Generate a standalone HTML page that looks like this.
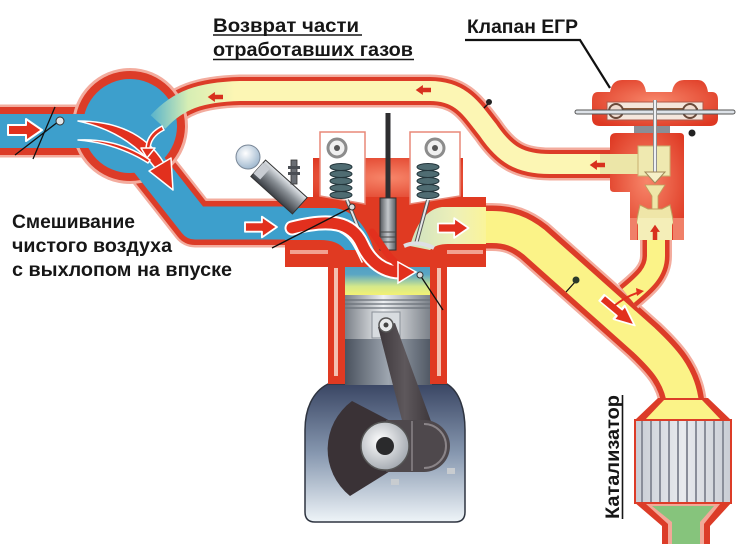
<!DOCTYPE html>
<html><head><meta charset="utf-8">
<style>
html,body{margin:0;padding:0;background:#fff;}
svg{display:block;}
text{font-family:"Liberation Sans","DejaVu Sans",sans-serif;font-weight:bold;fill:#161616;}
</style></head><body>
<svg width="750" height="544" viewBox="0 0 750 544" xmlns="http://www.w3.org/2000/svg">
<defs>
 <linearGradient id="retY" gradientUnits="userSpaceOnUse" x1="150" y1="0" x2="235" y2="0">
  <stop offset="0" stop-color="#56b2cc"/>
  <stop offset="0.45" stop-color="#d6eeb4"/>
  <stop offset="1" stop-color="#fcf6b4"/>
 </linearGradient>
 <linearGradient id="crankG" x1="0" y1="0" x2="0" y2="1">
  <stop offset="0" stop-color="#3a4664"/>
  <stop offset="0.5" stop-color="#8697af"/>
  <stop offset="1" stop-color="#eef4f8"/>
 </linearGradient>
 <linearGradient id="pistonG" x1="0" y1="0" x2="1" y2="0">
  <stop offset="0" stop-color="#7a8088"/>
  <stop offset="0.45" stop-color="#eef0f2"/>
  <stop offset="1" stop-color="#7c828a"/>
 </linearGradient>
 <linearGradient id="skirtG" x1="0" y1="0" x2="1" y2="0">
  <stop offset="0" stop-color="#4a525e"/>
  <stop offset="0.5" stop-color="#9ea6b0"/>
  <stop offset="1" stop-color="#4e5662"/>
 </linearGradient>
 <linearGradient id="chamberG" x1="0" y1="0" x2="0" y2="1">
  <stop offset="0" stop-color="#3c90c0"/>
  <stop offset="0.55" stop-color="#5aa6c4"/>
  <stop offset="0.8" stop-color="#d4e88a"/>
  <stop offset="1" stop-color="#f6f272"/>
 </linearGradient>
 <linearGradient id="exPortG" x1="0" y1="0" x2="1" y2="0">
  <stop offset="0" stop-color="#cfe2c0"/>
  <stop offset="0.6" stop-color="#eef0b8"/>
  <stop offset="1" stop-color="#faf49a"/>
 </linearGradient>
 <radialGradient id="redG" cx="0.5" cy="0.45" r="0.65">
  <stop offset="0" stop-color="#f7866a"/>
  <stop offset="1" stop-color="#de3822"/>
 </radialGradient>
 <radialGradient id="bulbG" cx="0.4" cy="0.35" r="0.7">
  <stop offset="0" stop-color="#ffffff"/>
  <stop offset="1" stop-color="#9ab4cc"/>
 </radialGradient>
 <linearGradient id="injG" x1="0" y1="0" x2="0" y2="1">
  <stop offset="0" stop-color="#e4e8ec"/>
  <stop offset="0.45" stop-color="#8a9096"/>
  <stop offset="1" stop-color="#3a3e44"/>
 </linearGradient>
 <linearGradient id="plugG" x1="0" y1="0" x2="1" y2="0">
  <stop offset="0" stop-color="#55595f"/>
  <stop offset="0.5" stop-color="#c4c8cc"/>
  <stop offset="1" stop-color="#55595f"/>
 </linearGradient>
 <radialGradient id="journalG" cx="0.4" cy="0.4" r="0.7">
  <stop offset="0" stop-color="#ffffff"/>
  <stop offset="1" stop-color="#9aa0a8"/>
 </radialGradient>
 <linearGradient id="catG" x1="0" y1="0" x2="1" y2="0">
  <stop offset="0" stop-color="#c8ccd4"/>
  <stop offset="0.5" stop-color="#e8eaee"/>
  <stop offset="1" stop-color="#c8ccd4"/>
 </linearGradient>
 <linearGradient id="rodG" x1="0" y1="0" x2="1" y2="0">
  <stop offset="0" stop-color="#3c363a"/>
  <stop offset="0.5" stop-color="#5e585c"/>
  <stop offset="1" stop-color="#3c363a"/>
 </linearGradient>
</defs>

<!-- ===== PIPE OUTERS ===== -->
<g fill="none" stroke-linejoin="round" stroke-linecap="butt">
 <path d="M 158,122 C 178,100 200,92 240,91 L 430,91 C 462,91 472,110 488,130 C 505,155 520,164 550,164 L 622,164" stroke="#f3ac9e" stroke-width="33"/>
 <path d="M 158,122 C 178,100 200,92 240,91 L 430,91 C 462,91 472,110 488,130 C 505,155 520,164 550,164 L 622,164" stroke="#dc3c28" stroke-width="28"/>
 <path d="M 420,227 L 492,227 C 508,227 520,231 534,242 L 644,340 C 662,357 680,375 683,404" stroke="#f3ac9e" stroke-width="48"/>
 <path d="M 420,227 L 492,227 C 508,227 520,231 534,242 L 644,340 C 662,357 680,375 683,404" stroke="#dc3c28" stroke-width="43"/>
 <path d="M 656,228 L 656,256 C 656,272 645,282 628,296" stroke="#f3ac9e" stroke-width="32"/>
 <path d="M 656,228 L 656,256 C 656,272 645,282 628,296" stroke="#dc3c28" stroke-width="27"/>
 <path d="M -10,131 L 95,131" stroke="#f3ac9e" stroke-width="53"/>
 <path d="M -10,131 L 95,131" stroke="#dc3c28" stroke-width="48"/>
 <path d="M 128,138 L 195,223 L 300,223" stroke="#f3ac9e" stroke-width="49"/>
 <path d="M 128,138 L 195,223 L 300,223" stroke="#dc3c28" stroke-width="44"/>
</g>
<circle cx="130" cy="126" r="58" fill="#f3ac9e"/>
<circle cx="130" cy="126" r="55" fill="#dc3c28"/>

<!-- ===== PIPE INNERS ===== -->
<g fill="none" stroke-linejoin="round">
 <path d="M -10,131 L 95,131" stroke="#3d9fcc" stroke-width="34"/>
 <path d="M 128,138 L 195,223 L 300,223" stroke="#3d9fcc" stroke-width="33"/>
</g>
<circle cx="130" cy="126" r="47" fill="#3d9fcc"/>
<g fill="none" stroke-linejoin="round">
 <path d="M 158,122 C 178,100 200,92 240,91 L 430,91 C 462,91 472,110 488,130 C 505,155 520,164 550,164 L 622,164" stroke="url(#retY)" stroke-width="20"/>
 <path d="M 420,227 L 492,227 C 508,227 520,231 534,242 L 644,340 C 662,357 680,375 683,404" stroke="#fbf388" stroke-width="32"/>
 <path d="M 656,228 L 656,256 C 656,272 645,282 628,296" stroke="#fbf388" stroke-width="18"/>
</g>

<!-- ===== CATALYST ===== -->
<polygon points="658,398 708,398 732,421 634,421" fill="#dc3c28"/>
<polygon points="664,400 702,400 722,421 644,421" fill="#fbf388"/>
<rect x="635" y="420" width="96" height="83" fill="url(#catG)" stroke="#dc3c28" stroke-width="2"/>
<g stroke="#8a8e9a" stroke-width="2">
 <line x1="642" y1="421" x2="642" y2="502"/><line x1="651" y1="421" x2="651" y2="502"/>
 <line x1="660" y1="421" x2="660" y2="502"/><line x1="669" y1="421" x2="669" y2="502"/>
 <line x1="678" y1="421" x2="678" y2="502"/><line x1="687" y1="421" x2="687" y2="502"/>
 <line x1="696" y1="421" x2="696" y2="502"/><line x1="705" y1="421" x2="705" y2="502"/>
 <line x1="714" y1="421" x2="714" y2="502"/><line x1="723" y1="421" x2="723" y2="502"/>
</g>
<polygon points="634,502 732,502 710,526 710,544 662,544 662,526" fill="#dc3c28"/>
<polygon points="646,504 720,504 704,524 704,544 668,544 668,524" fill="#f2a898"/>
<polygon points="652,506 714,506 700,522 700,544 672,544 672,522" fill="#86c47c"/>

<!-- ===== CYLINDER & CRANKCASE ===== -->
<path d="M 328,384 L 447,384 C 460,392 465,410 465,430 L 465,512 Q 465,522 455,522 L 315,522 Q 305,522 305,512 L 305,430 C 305,410 312,392 328,384 Z" fill="url(#crankG)" stroke="#2e3440" stroke-width="1.5"/>
<rect x="345" y="338" width="87" height="47" fill="url(#skirtG)"/>
<rect x="328" y="262" width="17" height="122" fill="#e03a22"/>
<rect x="430" y="262" width="17" height="122" fill="#e03a22"/>
<rect x="334" y="268" width="4" height="108" fill="#f4c0b0"/>
<rect x="437" y="268" width="4" height="108" fill="#f4c0b0"/>
<rect x="345" y="248" width="85" height="48" fill="url(#chamberG)"/>
<rect x="345" y="295" width="85" height="44" fill="url(#pistonG)"/>
<g stroke="#6a7078" stroke-width="1.2">
 <line x1="345" y1="300" x2="430" y2="300"/><line x1="345" y1="304" x2="430" y2="304"/><line x1="345" y1="308" x2="430" y2="308"/>
</g>
<rect x="372" y="312" width="28" height="26" fill="#d8dce0" stroke="#8a9098" stroke-width="1"/>
<!-- crank web -->
<path d="M 398,425 L 352,401 A 60 60 0 0 0 350,496 L 395,468 Z" fill="#3a3236"/>
<!-- connecting rod -->
<path d="M 378,327 L 395,323 L 432,424 L 404,428 Z" fill="url(#rodG)"/>
<path d="M 386,420 L 424,420 A 26 26 0 0 1 424,472 L 386,472 Z" fill="#4e484c"/>
<path d="M 424,424 A 22 22 0 0 1 424,468" stroke="#8a8488" stroke-width="2" fill="none"/>
<line x1="412" y1="421" x2="412" y2="471" stroke="#8a8488" stroke-width="1.5"/>
<rect x="391" y="479" width="8" height="6" fill="#c8ccd0"/>
<rect x="447" y="468" width="8" height="6" fill="#c8ccd0"/>
<circle cx="385" cy="446" r="24" fill="url(#journalG)" stroke="#555" stroke-width="1.5"/>
<circle cx="385" cy="446" r="9" fill="#2a2a2c"/>
<circle cx="386" cy="325" r="7" fill="#e8eaec" stroke="#555" stroke-width="1.5"/>
<circle cx="386" cy="325" r="2.5" fill="#444"/>

<!-- ===== CYLINDER HEAD ===== -->
<rect x="313" y="158" width="150" height="44" fill="url(#redG)"/>
<rect x="285" y="197" width="201" height="70" fill="#e03a22"/>
<rect x="290" y="250" width="38" height="4" fill="#f2a090"/>
<rect x="447" y="250" width="36" height="4" fill="#f2a090"/>
<path d="M 320,132 L 365,132 L 365,204 L 320,196 Z" fill="#fff" stroke="#e88878" stroke-width="1.5"/>
<path d="M 410,132 L 460,132 L 460,196 L 410,204 Z" fill="#fff" stroke="#e88878" stroke-width="1.5"/>
<circle cx="337" cy="148" r="9" fill="#f0f0f0" stroke="#8c8c8c" stroke-width="3"/>
<circle cx="337" cy="148" r="3" fill="#555"/>
<circle cx="435" cy="148" r="9" fill="#f0f0f0" stroke="#8c8c8c" stroke-width="3"/>
<circle cx="435" cy="148" r="3" fill="#555"/>
<path d="M 285,208 L 335,208 Q 362,212 374,250 L 345,250 Q 338,240 320,240 L 285,240 Z" fill="#3d9fcc"/>
<path d="M 486,207 L 442,207 Q 420,210 410,246 L 430,250 Q 436,244 448,244 L 486,244 Z" fill="url(#exPortG)"/>
<g fill="#4f6c72" stroke="#24363c" stroke-width="1">
 <ellipse cx="341" cy="167" rx="11" ry="3.5"/><ellipse cx="341" cy="174" rx="11" ry="3.5"/>
 <ellipse cx="341" cy="181" rx="11" ry="3.5"/><ellipse cx="341" cy="188" rx="11" ry="3.5"/>
 <ellipse cx="341" cy="195" rx="11" ry="3.5"/>
 <ellipse cx="428" cy="167" rx="11" ry="3.5"/><ellipse cx="428" cy="174" rx="11" ry="3.5"/>
 <ellipse cx="428" cy="181" rx="11" ry="3.5"/><ellipse cx="428" cy="188" rx="11" ry="3.5"/>
 <ellipse cx="428" cy="195" rx="11" ry="3.5"/>
</g>
<line x1="347" y1="200" x2="368" y2="252" stroke="#555" stroke-width="4"/>
<line x1="347" y1="200" x2="368" y2="252" stroke="#e4e6e8" stroke-width="2"/>
<line x1="428" y1="200" x2="416" y2="244" stroke="#555" stroke-width="4"/>
<line x1="428" y1="200" x2="416" y2="244" stroke="#e4e6e8" stroke-width="2"/>
<path d="M 404,246 Q 418,240 434,248" stroke="#dde0e4" stroke-width="4" fill="none"/>
<rect x="385.5" y="113" width="5" height="92" fill="#2e2e30"/>
<rect x="380" y="198" width="16" height="52" fill="url(#plugG)" stroke="#333" stroke-width="1"/>
<g stroke="#444" stroke-width="1"><line x1="380" y1="232" x2="396" y2="232"/><line x1="380" y1="237" x2="396" y2="237"/><line x1="380" y1="242" x2="396" y2="242"/></g>

<!-- injector -->
<g transform="translate(279,187) rotate(42)">
 <rect x="-28" y="-11" width="56" height="22" fill="url(#injG)" stroke="#333" stroke-width="1"/>
 <rect x="-28" y="-7" width="9" height="14" fill="#c8ccd2"/>
</g>
<rect x="291" y="160" width="6" height="24" fill="#6a6e74" stroke="#333" stroke-width="0.8"/>
<rect x="288" y="166" width="12" height="3" fill="#4a4e54"/>
<rect x="288" y="172" width="12" height="3" fill="#4a4e54"/>
<circle cx="248" cy="157" r="12" fill="url(#bulbG)" stroke="#7a8898" stroke-width="1"/>

<!-- ===== EGR VALVE ===== -->
<path d="M 598,92 L 610,92 Q 612,80 622,80 L 636,80 Q 644,80 646,92 L 672,92 Q 674,80 684,80 L 698,80 Q 706,80 708,92 L 712,92 Q 718,92 718,100 L 718,118 Q 718,126 710,126 L 600,126 Q 592,126 592,118 L 592,100 Q 592,92 598,92 Z" fill="url(#redG)"/>
<rect x="607" y="102" width="96" height="18" fill="#f4e6dc" stroke="#b05848" stroke-width="1"/>
<rect x="612" y="108" width="86" height="6" fill="#8a5a3a"/>
<circle cx="616" cy="111" r="7" fill="#f0dcd0" stroke="#6a4a3a" stroke-width="2"/>
<circle cx="690" cy="111" r="7" fill="#f0dcd0" stroke="#6a4a3a" stroke-width="2"/>
<line x1="577" y1="112" x2="733" y2="112" stroke="#555" stroke-width="5" stroke-linecap="round"/>
<line x1="577" y1="112" x2="733" y2="112" stroke="#dde2e8" stroke-width="3" stroke-linecap="round"/>
<rect x="634" y="126" width="36" height="7" fill="#8a8e96"/>
<path d="M 616,133 L 680,133 Q 684,133 684,137 L 684,240 L 630,240 L 630,192 L 614,192 Q 610,192 610,188 L 610,139 Q 610,133 616,133 Z" fill="url(#redG)"/>
<rect x="600" y="154" width="42" height="20" fill="#ece6a8"/>
<rect x="638" y="146" width="32" height="30" fill="#efe9b0" stroke="#c8b070" stroke-width="1"/>
<line x1="655" y1="100" x2="655" y2="175" stroke="#777" stroke-width="4"/>
<line x1="655" y1="100" x2="655" y2="175" stroke="#eef0f4" stroke-width="2.4"/>
<path d="M 645,172 L 665,172 L 655,183 Z" fill="#f6f0c8" stroke="#a08858" stroke-width="1"/>
<path d="M 645,185 L 652,196 L 652,212 L 658,212 L 658,196 L 665,185 Z" fill="#efe6a8" stroke="#c0a060" stroke-width="0.8"/>
<path d="M 636,224 L 640,205 L 648,209 L 662,209 L 670,205 L 674,224 Z" fill="#efe6a8" stroke="#c0a060" stroke-width="1"/>
<rect x="638" y="218" width="34" height="22" fill="#f4eeb8"/>
<rect x="630" y="218" width="7" height="22" fill="#f08068"/>
<rect x="673" y="218" width="11" height="22" fill="#f08068"/>
<circle cx="692" cy="133" r="3.5" fill="#222"/>

<!-- ===== ARROWS ===== -->
<g fill="#e2301e" stroke="#fff" stroke-width="2" stroke-linejoin="round">
 <path transform="translate(8,130)" d="M0,-5 L18,-5 L18,-11 L34,0 L18,11 L18,5 L0,5 Z"/>
 <path transform="translate(245,227) scale(0.94)" d="M0,-5 L18,-5 L18,-11 L34,0 L18,11 L18,5 L0,5 Z"/>
 <path transform="translate(438,228) scale(0.9)" d="M0,-5 L18,-5 L18,-11 L34,0 L18,11 L18,5 L0,5 Z"/>
 <path transform="translate(602,298) rotate(40) scale(1.25,0.8)" d="M0,-5 L18,-5 L18,-11 L34,0 L18,11 L18,5 L0,5 Z"/>
</g>
<g fill="#d8301e">
 <path transform="translate(223,97) rotate(180) scale(0.45)" d="M0,-5 L18,-5 L18,-11 L34,0 L18,11 L18,5 L0,5 Z"/>
 <path transform="translate(431,90) rotate(180) scale(0.45)" d="M0,-5 L18,-5 L18,-11 L34,0 L18,11 L18,5 L0,5 Z"/>
 <path transform="translate(605,165) rotate(180) scale(0.45)" d="M0,-5 L18,-5 L18,-11 L34,0 L18,11 L18,5 L0,5 Z"/>
 <path transform="translate(655,240) rotate(-90) scale(0.45)" d="M0,-5 L18,-5 L18,-11 L34,0 L18,11 L18,5 L0,5 Z"/>
</g>
<g fill="#e2301e" stroke="#fff" stroke-width="1.5" stroke-linejoin="round">
 <path d="M 78,121 Q 138,121 164,163 L 156,169 Q 128,132 78,121 Z"/>
 <polygon points="149,171 171,158 173,190"/>
 <path d="M 78,140 Q 118,138 150,160 L 148,163 Q 116,143 78,140 Z"/>
 <path d="M 162,126 Q 146,134 146,150 L 150,150 Q 150,137 164,130 Z"/>
 <polygon points="141,148 155,148 147,158"/>
</g>
<g fill="none" stroke-linecap="round">
 <path d="M 292,228 C 330,218 352,222 362,244 C 370,262 384,272 400,272" stroke="#fff" stroke-width="15"/>
 <path d="M 292,228 C 330,218 352,222 362,244 C 370,262 384,272 400,272" stroke="#e2301e" stroke-width="11"/>
 <path d="M 340,232 C 352,238 356,250 362,262" stroke="#fff" stroke-width="1.5"/>
 <path d="M 372,232 C 382,245 388,258 400,266" stroke="#e2301e" stroke-width="7"/>
</g>
<polygon points="398,262 398,283 416,272" fill="#e2301e" stroke="#fff" stroke-width="1.5"/>
<path d="M 614,306 Q 626,296 640,292" stroke="#e2301e" stroke-width="2" fill="none"/>
<polygon points="636,288 644,291 637,296" fill="#e2301e"/>

<!-- ===== LEADER LINES ===== -->
<g stroke="#111" stroke-width="1.3" fill="none">
 <line x1="15" y1="155" x2="63" y2="118"/>
 <line x1="33" y1="159" x2="55" y2="107"/>
 <line x1="272" y1="248" x2="350" y2="208"/>
 <line x1="420" y1="275" x2="443" y2="310"/>
 <line x1="566" y1="292" x2="575" y2="282"/>
 <line x1="484" y1="108" x2="488" y2="104"/>
</g>
<circle cx="60" cy="121" r="4" fill="#e0e6ea" stroke="#333" stroke-width="1"/>
<circle cx="352" cy="207" r="3" fill="#ddd" stroke="#333" stroke-width="1"/>
<circle cx="420" cy="275" r="3" fill="#ddd" stroke="#333" stroke-width="1"/>
<circle cx="576" cy="280" r="3.5" fill="#2a3a2a"/>
<circle cx="489" cy="102" r="3" fill="#222"/>
<polyline points="465,40 580,40 610,88" stroke="#111" stroke-width="2.2" fill="none"/>

<!-- ===== TEXT ===== -->
<text x="213" y="32" font-size="19" textLength="146" lengthAdjust="spacingAndGlyphs">Возврат части</text>
<line x1="213" y1="35" x2="362" y2="35" stroke="#161616" stroke-width="1.6"/>
<text x="213" y="56" font-size="19" textLength="200" lengthAdjust="spacingAndGlyphs">отработавших газов</text>
<line x1="213" y1="59.5" x2="414" y2="59.5" stroke="#161616" stroke-width="1.6"/>
<text x="467" y="33" font-size="19.5" textLength="111" lengthAdjust="spacingAndGlyphs">Клапан ЕГР</text>
<text x="12" y="228" font-size="19" textLength="123" lengthAdjust="spacingAndGlyphs">Смешивание</text>
<text x="12" y="252" font-size="19" textLength="160" lengthAdjust="spacingAndGlyphs">чистого воздуха</text>
<text x="12" y="276" font-size="19" textLength="220" lengthAdjust="spacingAndGlyphs">с выхлопом на впуске</text>
<g transform="translate(619,519) rotate(-90)">
 <text x="0" y="0" font-size="19" textLength="124" lengthAdjust="spacingAndGlyphs">Катализатор</text>
 <line x1="0" y1="3.5" x2="124" y2="3.5" stroke="#161616" stroke-width="1.6"/>
</g>
</svg>
</body></html>
